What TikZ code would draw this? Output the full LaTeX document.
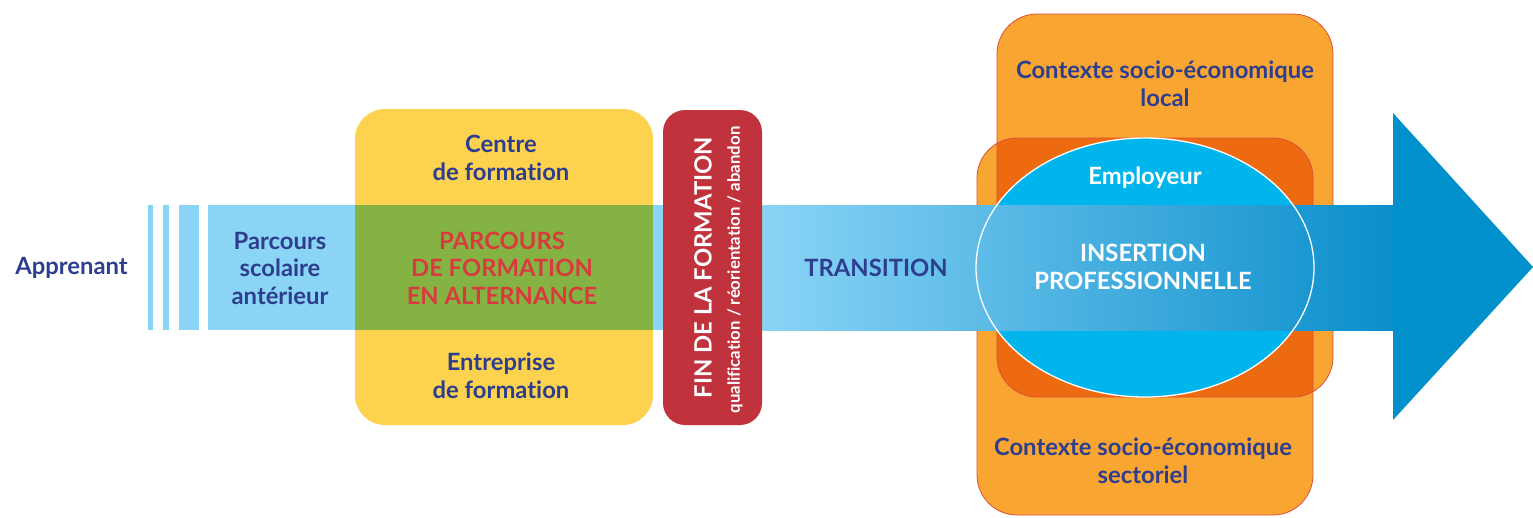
\documentclass[tikz,border=0pt]{standalone}
\usepackage{fontspec}
\setmainfont{Lato}[Ligatures=NoCommon]
\definecolor{txtblue}{HTML}{2E3E8E}
\definecolor{txtred}{HTML}{D93A3D}
\definecolor{yelbox}{HTML}{FDD24F}
\definecolor{grnbox}{HTML}{84B343}
\definecolor{bandlight}{HTML}{8AD4F6}
\definecolor{banddark}{HTML}{0A8ECB}
\definecolor{headblue}{HTML}{0091CC}
\definecolor{redbox}{HTML}{C0323C}
\definecolor{orglight}{HTML}{F9A532}
\definecolor{orgdark}{HTML}{EE6A10}
\definecolor{orgline}{HTML}{DC5038}
\definecolor{cyanell}{HTML}{00B5EC}
\usetikzlibrary{shapes.geometric}
\tikzset{
  lbl/.style={inner sep=0pt, align=center, font=\fontsize{23.8}{27.5}\selectfont\bfseries, text=txtblue},
  ctxbox/.style={rounded corners=40pt},
}
\begin{document}
\begin{tikzpicture}[x=1pt,y=-1pt]
\useasboundingbox (0,0) rectangle (1533,517);
% context boxes
\fill[orglight, ctxbox] (997,14) rectangle (1333,397);
\fill[orglight, ctxbox] (977,138) rectangle (1313,515);
\begin{scope}
  \clip[ctxbox] (997,14) rectangle (1333,397);
  \fill[orgdark, ctxbox] (977,138) rectangle (1313,515);
\end{scope}
\draw[orgline, line width=0.8pt, ctxbox] (997,14) rectangle (1333,397);
\draw[orgline, line width=0.8pt, ctxbox] (977,138) rectangle (1313,515);
% ellipse
\node[ellipse, fill=cyanell, minimum width=338pt, minimum height=259pt, inner sep=0pt] (ell) at (1145,267.5) {};
% band
\fill[bandlight] (208,205) rectangle (764,330);
\shade[left color=bandlight, right color=banddark, shading angle=90] (762,205) rectangle (1394,330);
\fill[headblue] (1393,113) -- (1533,267) -- (1393,420) -- cycle;
% stripes
\fill[bandlight] (148,205) rectangle (153,330);
\fill[bandlight] (163,205) rectangle (169,330);
\fill[bandlight] (179,205) rectangle (199,330);
% yellow box
\fill[yelbox, rounded corners=30pt] (355,109) rectangle (653,425);
\fill[grnbox] (355,205) rectangle (653,330);
% red box
\fill[redbox, rounded corners=22pt] (663,110) rectangle (762,425);
% ellipse outline
\draw[white, line width=1.3pt] (ell.center) ellipse [x radius=169pt, y radius=129.5pt];
% texts
\node[lbl] (app) at (71.5,268) {Apprenant};
\node[lbl] (psa) at (280,268) {Parcours\\scolaire\\antérieur};
\node[lbl] (cdf) at (501,158) {Centre\\de formation};
\node[lbl, text=txtred] (pfa) at (502,268) {PARCOURS\\DE FORMATION\\EN ALTERNANCE};
\node[lbl] (edf) at (501,376) {Entreprise\\de formation};
\node[lbl, text=white, rotate=90, font=\fontsize{23.8}{27}\selectfont\bfseries] (fin) at (703,267.5) {FIN DE LA FORMATION};
\node[lbl, text=white, rotate=90, font=\fontsize{16.8}{18}\selectfont\bfseries] (qra) at (735,270) {qualification / réorientation / abandon};
\node[lbl] (tra) at (876,268) {TRANSITION};
\node[lbl] (csl) at (1165,84) {Contexte socio-économique\\local};
\node[lbl, text=white] (emp) at (1145,178) {Employeur};
\node[lbl, text=white] (ins) at (1143,267) {INSERTION\\PROFESSIONNELLE};
\node[lbl] (css) at (1143,461) {Contexte socio-économique\\sectoriel};
\end{tikzpicture}
\end{document}
